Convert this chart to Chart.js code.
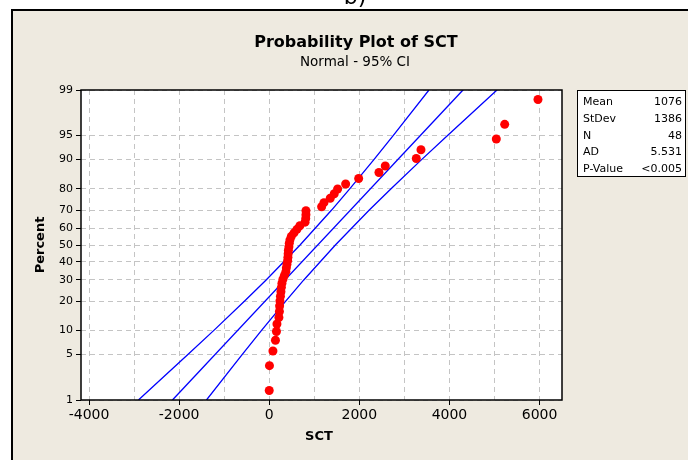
<!DOCTYPE html>
<html lang="en">
<head>
    <meta charset="UTF-8">
    <title>Probability Plot of SCT</title>
    <style>
        body {
            margin: 0;
            background: #ffffff;
        }

        .main {
            width: 688px;
            height: 460px;
        }
    </style>
    <script src="https://cdn.jsdelivr.net/npm/chart.js"></script>
</head>
<body>

<div class="main">
    <canvas id="myChart" width="688" height="460"></canvas>
</div>

<script>
    const sctValues = [0, 5, 82, 138, 160, 171, 215, 226, 230, 238,
        249, 260, 270, 282, 304, 337, 370, 380, 393, 408,
        415, 420, 425, 437, 445, 460, 490, 550, 615, 680,
        795, 810, 815, 815, 1163, 1214, 1354, 1443, 1518, 1696,
        1985, 2435, 2575, 3264, 3368, 5040, 5226, 5965];
    // plotting positions (percent) of the points above
    const sctPercent = [1.45, 3.51, 5.58, 7.64, 9.71, 11.78, 13.84, 15.91, 17.98, 20.04,
        22.11, 24.17, 26.24, 28.31, 30.37, 32.44, 34.50, 36.57, 38.64, 40.70,
        42.77, 44.83, 46.90, 48.97, 51.03, 53.10, 55.17, 57.23, 59.30, 61.36,
        63.43, 65.50, 67.56, 69.63, 71.69, 73.76, 75.83, 77.89, 79.96, 82.02,
        84.09, 86.16, 88.22, 90.29, 92.36, 94.42, 96.49, 98.55];

    // fitted line and 95% CI bands
    const fitPercent = [1, 99];
    const fitSct = [-2148, 4300];
    const ciPercent = [1, 5, 10, 20, 30, 50, 70, 80, 90, 95, 99];
    const ciLower = [-2903, -1806, -1229, -546, -69, 684, 1385, 1786, 2323, 2755, 3545];
    const ciUpper = [-1393, -602, -171, 366, 767, 1468, 2221, 2698, 3381, 3958, 5055];

    // axes
    const percentTicks = [1, 5, 10, 20, 30, 40, 50, 60, 70, 80, 90, 95, 99];
    const xTickValues = [-4000, -3000, -2000, -1000, 0, 1000, 2000, 3000, 4000, 5000, 6000];
    const xLabelStep = 2000;

    // summary table
    const statLabels = ['Mean', 'StDev', 'N', 'AD', 'P-Value'];
    const statValues = ['1076', '1386', '48', '5.531', '<0.005'];

    const FONT = '"DejaVu Sans", sans-serif';

    // normal quantile (probability scale of the y axis)
    function probit(p) {
        const a = [-3.969683028665376e+01, 2.209460984245205e+02, -2.759285104469687e+02, 1.383577518672690e+02, -3.066479806614716e+01, 2.506628277459239e+00];
        const b = [-5.447609879822406e+01, 1.615858368580409e+02, -1.556989798598866e+02, 6.680131188771972e+01, -1.328068155288572e+01];
        const c = [-7.784894002430293e-03, -3.223964580411365e-01, -2.400758277161838e+00, -2.549732539343734e+00, 4.374664141464968e+00, 2.938163982698783e+00];
        const d = [7.784695709041462e-03, 3.224671290700398e-01, 2.445134137142996e+00, 3.754408661907416e+00];
        const plow = 0.02425;
        let q, r;
        if (p < plow) {
            q = Math.sqrt(-2 * Math.log(p));
            return (((((c[0] * q + c[1]) * q + c[2]) * q + c[3]) * q + c[4]) * q + c[5]) /
                ((((d[0] * q + d[1]) * q + d[2]) * q + d[3]) * q + 1);
        }
        if (p > 1 - plow) {
            q = Math.sqrt(-2 * Math.log(1 - p));
            return -(((((c[0] * q + c[1]) * q + c[2]) * q + c[3]) * q + c[4]) * q + c[5]) /
                ((((d[0] * q + d[1]) * q + d[2]) * q + d[3]) * q + 1);
        }
        q = p - 0.5;
        r = q * q;
        return (((((a[0] * r + a[1]) * r + a[2]) * r + a[3]) * r + a[4]) * r + a[5]) * q /
            (((((b[0] * r + b[1]) * r + b[2]) * r + b[3]) * r + b[4]) * r + 1);
    }

    const toPoints = (xs, ps) => xs.map((x, i) => ({x: x, y: probit(ps[i] / 100)}));

    // background, frame, titles, stats box
    const decor = {
        id: 'decor',
        beforeDraw(chart) {
            const ctx = chart.ctx;
            const a = chart.chartArea;
            ctx.save();
            ctx.fillStyle = '#ffffff';
            ctx.fillRect(0, 0, 688, 460);
            ctx.fillStyle = '#eeeae0';
            ctx.fillRect(12, 10, 676, 450);
            ctx.strokeStyle = '#000';
            ctx.lineWidth = 2;
            ctx.beginPath();
            ctx.moveTo(12, 470);
            ctx.lineTo(12, 10);
            ctx.lineTo(700, 10);
            ctx.stroke();
            ctx.fillStyle = '#ffffff';
            ctx.fillRect(a.left, a.top, a.right - a.left, a.bottom - a.top);

            ctx.fillStyle = '#000';
            ctx.textAlign = 'center';
            ctx.textBaseline = 'alphabetic';
            ctx.font = '22px ' + FONT;
            ctx.fillText('b)', 355, 4);

            ctx.textBaseline = 'middle';
            ctx.font = 'bold 16px ' + FONT;
            ctx.fillText('Probability Plot of SCT', 356, 43);
            ctx.font = '13.5px ' + FONT;
            ctx.fillText('Normal - 95% CI', 355, 62);

            ctx.font = 'bold 13px ' + FONT;
            ctx.fillText('SCT', 319, 437);
            ctx.save();
            ctx.translate(41, 245);
            ctx.rotate(-Math.PI / 2);
            ctx.fillText('Percent', 0, 0);
            ctx.restore();

            // stats box
            ctx.fillStyle = '#ffffff';
            ctx.fillRect(577, 90, 109, 87);
            ctx.strokeStyle = '#000';
            ctx.lineWidth = 1;
            ctx.strokeRect(577.5, 90.5, 108, 86);
            ctx.fillStyle = '#000';
            ctx.font = '11px ' + FONT;
            statLabels.forEach((lab, i) => {
                const y = 102.5 + i * 16.6;
                ctx.textAlign = 'left';
                ctx.fillText(lab, 583, y);
                ctx.textAlign = 'right';
                ctx.fillText(statValues[i], 682, y);
            });
            ctx.restore();
        },
        afterDraw(chart) {
            const ctx = chart.ctx;
            const a = chart.chartArea;
            ctx.save();
            ctx.strokeStyle = '#000';
            ctx.lineWidth = 1.5;
            ctx.strokeRect(a.left, a.top, a.right - a.left, a.bottom - a.top);
            ctx.restore();
        }
    };

    const lineStyle = {
        type: 'line',
        borderColor: '#0000ff',
        borderWidth: 1.3,
        pointRadius: 0,
        fill: false,
        tension: 0
    };

    const config = {
        type: 'scatter',
        data: {
            datasets: [
                {
                    label: 'SCT',
                    data: toPoints(sctValues, sctPercent),
                    backgroundColor: '#ff0000',
                    borderWidth: 0,
                    pointRadius: 4.5
                },
                Object.assign({label: 'Fit', data: toPoints(fitSct, fitPercent)}, lineStyle),
                Object.assign({label: 'Lower', data: toPoints(ciLower, ciPercent)}, lineStyle),
                Object.assign({label: 'Upper', data: toPoints(ciUpper, ciPercent)}, lineStyle)
            ]
        },
        options: {
            responsive: false,
            animation: false,
            layout: {
                padding: {left: 11, top: 90, right: 126, bottom: 0}
            },
            plugins: {
                legend: {display: false},
                tooltip: {enabled: false}
            },
            scales: {
                x: {
                    type: 'linear',
                    min: -4178,
                    max: 6498,
                    afterBuildTicks: (scale) => {
                        scale.ticks = xTickValues.map(v => ({value: v}));
                    },
                    afterFit: (scale) => {
                        scale.height = 60;
                    },
                    ticks: {
                        autoSkip: false,
                        maxRotation: 0,
                        padding: 2,
                        color: '#000',
                        font: {family: FONT, size: 14},
                        callback: (v) => (v % xLabelStep === 0 ? String(v) : '')
                    },
                    grid: {
                        color: '#c4c4c4',
                        lineWidth: 1,
                        tickLength: 5,
                        tickColor: (c) => (c.tick && c.tick.value % xLabelStep === 0 ? '#000' : 'rgba(0,0,0,0)')
                    },
                    border: {display: false, dash: [5, 4]}
                },
                y: {
                    type: 'linear',
                    min: probit(0.01),
                    max: probit(0.99),
                    afterBuildTicks: (scale) => {
                        scale.ticks = percentTicks.map(p => ({value: probit(p / 100)}));
                    },
                    afterFit: (scale) => {
                        scale.width = 70;
                    },
                    ticks: {
                        autoSkip: false,
                        padding: 3,
                        color: '#000',
                        font: {family: FONT, size: 11},
                        callback: (v, i) => String(percentTicks[i])
                    },
                    grid: {
                        color: '#c4c4c4',
                        lineWidth: 1,
                        tickLength: 5,
                        tickColor: '#000'
                    },
                    border: {display: false, dash: [5, 4]}
                }
            }
        },
        plugins: [decor]
    };

    const myChart = new Chart(document.getElementById('myChart'), config);
</script>

</body>
</html>
